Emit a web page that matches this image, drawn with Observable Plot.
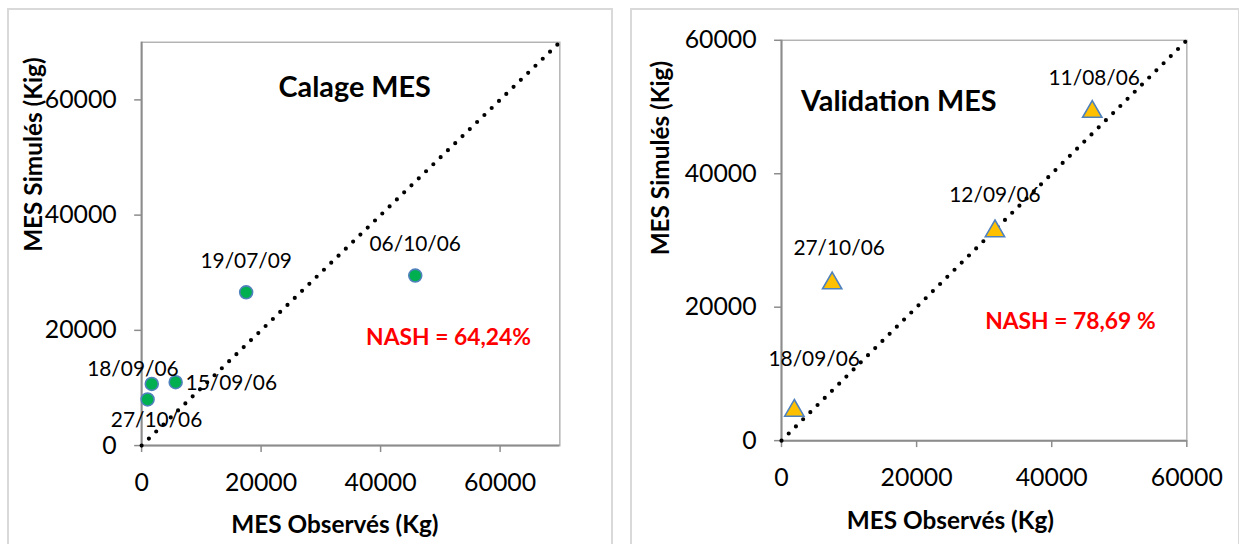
<!DOCTYPE html>
<html>
<head>
<meta charset="utf-8">
<script src="https://cdn.jsdelivr.net/npm/d3@7"></script>
<script src="https://cdn.jsdelivr.net/npm/@observablehq/plot@0.6"></script>
<style>
  html, body { margin: 0; padding: 0; background: #fff; }
  body { width: 1239px; height: 544px; position: relative; overflow: hidden; font-family: Lato, "Open Sans", sans-serif; }
  .panel { position: absolute; top: 8px; height: 540px; border: 2px solid #d9d9d9; border-bottom: none; box-sizing: border-box; background: #fff; }
  .panel svg { position: absolute; left: -2px; top: -2px; }
</style>
</head>
<body>
<div id="calage" class="panel" style="left:7px; width:606px;"></div>
<div id="validation" class="panel" style="left:630px; width:610px;"></div>
<script>
// Calage (calibration) : observed vs simulated suspended matter (MES)
const calageDates = ["27/10/06", "18/09/06", "15/09/06", "19/07/09", "06/10/06"];
const calageObserved = [1000, 1700, 5700, 17500, 45800];
const calageSimulated = [8000, 10700, 11000, 26600, 29500];
const calageNash = "NASH = 64,24%";

// Validation
const validationDates = ["18/09/06", "27/10/06", "12/09/06", "11/08/06"];
const validationObserved = [1900, 7500, 31600, 46000];
const validationSimulated = [4500, 23600, 31400, 49300];
const validationNash = "NASH = 78,69 %";

const xTicks = [0, 20000, 40000, 60000];
const yTicks = [0, 20000, 40000, 60000];

const font = "Lato, 'Open Sans', sans-serif";

// label offsets (px) relative to each point
const calageOffsets = [[9, 21, "middle"], [-19, -15, "middle"], [10, 1, "start"], [0, -31, "middle"], [0, -32, "middle"]];
const validationOffsets = [[20, -52, "middle"], [7, -35, "middle"], [0, -36, "middle"], [2, -34, "middle"]];

function panel({dates, obs, sim, max, title, titleDx, titleDy, nash, nashDx, nashDy, offsets,
                 width, height, margins, symbol, fill, r, yTitleDx, yTitleDy, xTitleDx, xTitleDy}) {
  const data = dates.map((d, i) => ({date: d, x: obs[i], y: sim[i], dx: offsets[i][0], dy: offsets[i][1], anchor: offsets[i][2]}));
  const diag = [{v: 0}, {v: max}];
  const groups = d3.group(data, d => `${d.dx}|${d.dy}|${d.anchor}`);
  const labelMarks = Array.from(groups.values(), g => Plot.text(g, {
    x: "x", y: "y", text: "date", dx: g[0].dx, dy: g[0].dy, textAnchor: g[0].anchor,
    fontSize: 21, fill: "#000", fontFamily: font
  }));
  return Plot.plot({
    width, height,
    ...margins,
    style: {fontFamily: font, background: "transparent", overflow: "visible"},
    x: {domain: [0, max], ticks: xTicks, label: null},
    y: {domain: [0, max], ticks: yTicks, label: null},
    marks: [
      Plot.frame({stroke: "#b3b3b3", strokeWidth: 1.5}),
      Plot.axisX({ticks: xTicks, tickSize: 7, tickPadding: 21, fontSize: 25, stroke: "#8c8c8c", strokeWidth: 1.5, color: "#000", tickFormat: d => String(d), label: null}),
      Plot.axisY({ticks: yTicks, tickSize: 7, tickPadding: 18, fontSize: 25, stroke: "#8c8c8c", strokeWidth: 1.5, color: "#000", tickFormat: d => String(d), label: null}),
      Plot.ruleX([0], {stroke: "#8c8c8c", strokeWidth: 2}),
      Plot.ruleY([0], {stroke: "#8c8c8c", strokeWidth: 2}),
      Plot.line(diag, {x: "v", y: "v", stroke: "#000", strokeWidth: 4.2, strokeDasharray: "0 10.2", strokeLinecap: "round"}),
      Plot.dot(data, {x: "x", y: "y", symbol, r, fill, stroke: "#4f81bd", strokeWidth: 1.6}),
      ...labelMarks,
      Plot.text([title], {frameAnchor: "top", lineAnchor: "middle", dx: titleDx, dy: titleDy, fontSize: 29, fontWeight: "bold", fill: "#000", fontFamily: font}),
      Plot.text([nash], {frameAnchor: "top-left", lineAnchor: "middle", textAnchor: "start", dx: nashDx, dy: nashDy, fontSize: 23, fontWeight: "bold", fill: "#ff0000", fontFamily: font}),
      Plot.text(["MES Simulés (Kig)"], {frameAnchor: "left", lineAnchor: "middle", rotate: -90, dx: yTitleDx, dy: yTitleDy, fontSize: 24.5, fontWeight: "bold", fill: "#000", fontFamily: font}),
      Plot.text(["MES Observés (Kg)"], {frameAnchor: "bottom", lineAnchor: "middle", dx: xTitleDx, dy: xTitleDy, fontSize: 24.5, fontWeight: "bold", fill: "#000", fontFamily: font})
    ]
  });
}

document.getElementById("calage").appendChild(panel({
  dates: calageDates, obs: calageObserved, sim: calageSimulated, max: 70000,
  title: "Calage MES", titleDx: 4, titleDy: 46,
  nash: calageNash, nashDx: 226, nashDy: 297,
  offsets: calageOffsets,
  width: 606, height: 538,
  margins: {marginLeft: 135, marginRight: 50, marginTop: 34, marginBottom: 98},
  symbol: "circle", fill: "#00b050", r: 6.5,
  yTitleDx: -108, yTitleDy: 8, xTitleDx: -16, xTitleDy: 80
}));

document.getElementById("validation").appendChild(panel({
  dates: validationDates, obs: validationObserved, sim: validationSimulated, max: 60000,
  title: "Validation MES", titleDx: -86, titleDy: 62,
  nash: validationNash, nashDx: 205, nashDy: 283,
  offsets: validationOffsets,
  width: 610, height: 538,
  margins: {marginLeft: 152, marginRight: 50, marginTop: 32, marginBottom: 103},
  symbol: "triangle", fill: "#ffc000", r: 7.2,
  yTitleDx: -121, yTitleDy: 15, xTitleDx: -34, xTitleDy: 81
}));
</script>
</body>
</html>
